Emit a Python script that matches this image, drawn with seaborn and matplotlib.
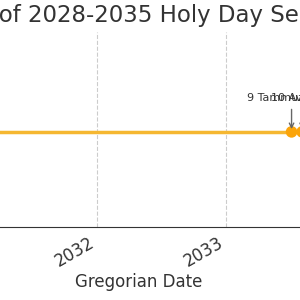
import matplotlib
matplotlib.use("Agg")
import matplotlib.pyplot as plt
import matplotlib.dates as mdates
import seaborn as sns
import pandas as pd

# ---- data ----
event_labels = ["9 Tammuz 5788", "10 Av 5788", "9 Tammuz 5793", "10 Av 5793", "9 Tammuz 5795", "10 Av 5795"]
event_dates = ["2028-07-03", "2028-08-01", "2033-07-06", "2033-08-05", "2035-07-15", "2035-08-14"]
event_level = [0, 0, 0, 0, 0, 0]
title = "Timeline of 2028-2035 Holy Day Sequence"
xlabel = "Gregorian Date"

df = pd.DataFrame({"date": pd.to_datetime(event_dates), "level": event_level, "label": event_labels})

sns.set_style("white")
plt.rcParams["font.family"] = ["DejaVu Sans"]

fig = plt.figure(figsize=(3, 3), dpi=100)

# layout: place axes so 2032 / 2033 ticks land where they are in the reference
xlim = (pd.Timestamp("2028-06-01"), pd.Timestamp("2036-03-27"))
ref = pd.Timestamp("2032-01-01")
k = 129 / 366.0
left_px = 97 + (xlim[0] - ref).days * k
width_px = (xlim[1] - xlim[0]).days * k
ax = fig.add_axes([left_px / 300, 73 / 300, width_px / 300, 195 / 300])

sns.lineplot(data=df, x="date", y="level", ax=ax, color="#f5b731", lw=2.5, zorder=2)
sns.scatterplot(data=df, x="date", y="level", ax=ax, color="#fba40a", s=70, edgecolor="none", zorder=3)

for d, lab in zip(df["date"], df["label"]):
    ax.annotate(lab, xy=(d, 0), xytext=(0, 22), textcoords="offset points",
                ha="center", fontsize=8, color="#333333",
                arrowprops=dict(arrowstyle="->", color="#666666", lw=1))

ax.set_xlim(xlim)
ax.set_ylim(-1, 1.05)
ax.xaxis.set_major_locator(mdates.YearLocator())
ax.xaxis.set_major_formatter(mdates.DateFormatter("%Y"))
ax.tick_params(axis="x", labelsize=12, length=3.5, pad=1.5, color="#333333", labelcolor="#333333")
plt.setp(ax.get_xticklabels(), rotation=30, ha="right")
ax.set_yticks([])
ax.set_ylabel("")
ax.set_xlabel(xlabel, fontsize=12, color="#333333", labelpad=2)
ax.set_title(title, fontsize=16.5, color="#333333", pad=7.5)
ax.grid(axis="x", linestyle="--", color="#cccccc", lw=0.8)
for s in ["top", "right"]:
    ax.spines[s].set_visible(False)
ax.spines["bottom"].set_color("#333333")
ax.spines["left"].set_color("#333333")

fig.savefig("out.png", dpi=100)
